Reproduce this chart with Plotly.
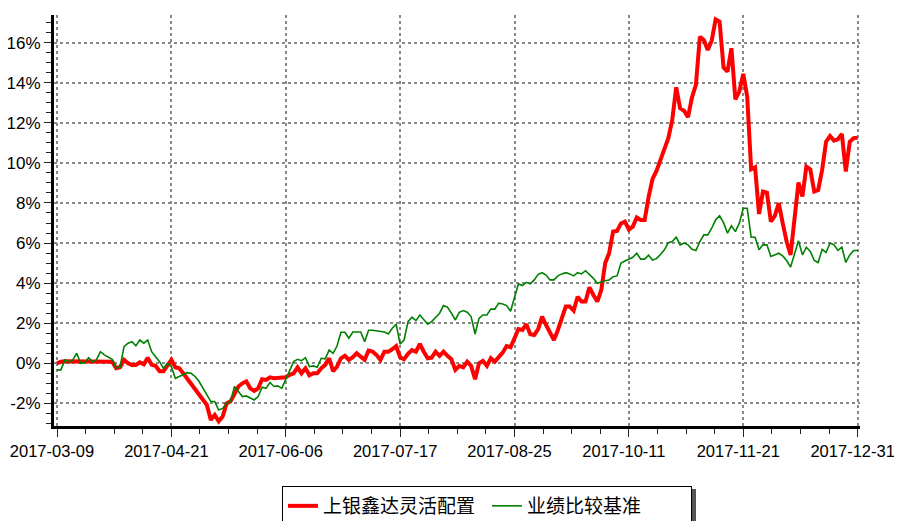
import plotly.graph_objects as go

fund_name = "上银鑫达灵活配置"
bench_name = "业绩比较基准"

tick_labels = ["2017-03-09", "2017-04-21", "2017-06-06", "2017-07-17",
               "2017-08-25", "2017-10-11", "2017-11-21", "2017-12-31"]

fund = [0.0, 0.08, 0.1, 0.1, 0.1, 0.1, 0.1, 0.1, 0.1, 0.1, 0.1, 0.1, 0.1, 0.1, 0.08,
        -0.25, -0.2, 0.17, 0.0, -0.08, -0.08, 0.05, -0.05, 0.28, -0.08, -0.13, -0.4, -0.4, -0.08, 0.17,
        -0.2, -0.25, -0.5, -0.75, -1.0, -1.25, -1.53, -1.75, -2.08, -2.83, -2.58, -2.9, -2.66, -2.0, -1.9,
        -1.53, -1.16, -1.0, -0.9, -1.25, -1.38, -1.25, -0.8, -0.83, -0.7, -0.75, -0.75, -0.75, -0.7, -0.58,
        -0.5, -0.2, -0.5, -0.25, -0.6, -0.5, -0.5, -0.25, -0.08, 0.25, -0.4, -0.17, 0.25, 0.37, 0.17,
        0.3, 0.5, 0.33, 0.17, 0.63, 0.58, 0.42, 0.17, 0.58, 0.58, 0.7, 0.86, 0.3, 0.2, 0.47,
        0.66, 0.58, 0.96, 0.58, 0.25, 0.28, 0.58, 0.37, 0.58, 0.37, 0.2, -0.33, -0.13, -0.2, 0.08,
        -0.13, -0.8, 0.0, 0.12, -0.13, 0.25, 0.08, 0.3, 0.53, 0.86, 0.8, 1.25, 1.71, 1.66, 1.95,
        1.45, 1.41, 1.7, 2.33, 1.91, 1.58, 1.16, 1.66, 2.33, 2.83, 2.83, 2.63, 3.32, 3.08, 3.08,
        3.79, 3.41, 3.08, 3.66, 5.0, 5.5, 6.57, 6.6, 6.98, 7.07, 6.68, 6.82, 7.28, 7.15, 7.15,
        8.3, 9.2, 9.6, 10.1, 10.73, 11.23, 12.14, 13.77, 12.72, 12.6, 12.28, 13.27, 13.89, 16.3, 16.13,
        15.63, 16.1, 17.16, 17.05, 14.77, 14.55, 15.72, 13.17, 13.56, 14.44, 13.3, 9.68, 9.78, 7.45, 8.57,
        8.52, 7.07, 7.36, 7.99, 6.99, 6.08, 5.41, 7.24, 9.02, 8.32, 9.82, 9.68, 8.57, 8.65, 9.65,
        11.06, 11.34, 11.11, 11.18, 11.44, 9.57, 11.06, 11.23, 11.26]

bench = [-0.33, -0.33, 0.17, 0.08, 0.17, 0.5, 0.0, 0.03, 0.28, 0.08, 0.17, 0.58, 0.42, 0.33, 0.2,
         -0.25, -0.17, 0.83, 1.0, 1.08, 0.87, 1.16, 1.0, 1.16, 0.58, 0.33, 0.08, -0.25, 0.0, -0.17,
         -0.75, -0.66, -0.58, -0.47, -0.5, -0.66, -0.9, -1.25, -1.58, -1.91, -1.91, -2.33, -2.25, -2.0, -1.91,
         -1.16, -1.41, -1.66, -1.63, -1.75, -1.83, -1.66, -1.2, -1.25, -0.96, -1.16, -1.13, -1.25, -0.83, -0.33,
         0.08, 0.2, 0.13, 0.28, -0.17, -0.13, -0.2, 0.25, 0.22, 0.66, 0.5, 0.86, 1.55, 1.55, 1.25,
         1.56, 1.56, 1.56, 1.08, 1.65, 1.65, 1.63, 1.58, 1.56, 1.46, 1.75, 1.95, 0.96, 1.16, 2.08,
         2.3, 2.13, 2.41, 2.16, 1.95, 2.08, 2.28, 2.5, 2.88, 2.8, 2.5, 2.16, 2.54, 2.63, 2.55,
         2.33, 1.46, 2.24, 2.41, 2.41, 2.7, 2.7, 3.0, 2.96, 2.88, 2.6, 3.28, 3.96, 3.88, 4.04,
         3.96, 4.16, 4.44, 4.52, 4.4, 4.16, 4.16, 4.36, 4.46, 4.52, 4.46, 4.36, 4.52, 4.46, 4.62,
         4.44, 4.24, 3.99, 4.07, 4.12, 4.16, 4.32, 4.36, 5.0, 5.1, 5.19, 5.29, 5.49, 5.2, 5.2,
         5.39, 5.15, 5.22, 5.43, 5.66, 6.02, 6.07, 6.29, 5.91, 6.0, 5.91, 5.69, 5.63, 6.07, 6.41,
         6.41, 6.74, 7.16, 7.36, 7.02, 6.49, 6.86, 6.57, 6.99, 7.74, 7.74, 6.29, 6.29, 5.66, 5.91,
         5.91, 5.33, 5.41, 5.49, 5.36, 5.13, 4.8, 5.49, 6.11, 5.41, 5.79, 5.58, 5.13, 5.03, 5.69,
         5.53, 6.0, 5.91, 5.63, 5.79, 5.03, 5.41, 5.63, 5.63]

y_ticks = [-2, 0, 2, 4, 6, 8, 10, 12, 14, 16]

n = len(fund)
x = list(range(n))
step = (n - 1) / (len(tick_labels) - 1)
tick_pos = [round(k * step) for k in range(len(tick_labels))]

# page body has an 8px margin; margins compensate so the plot lands where the reference has it
OFF = 8
W, H = 902, 521
ml, mr, mt, mb = 46, 50, 7, 103
pw = W - ml - mr
ph = H - mt - mb


def px_x(vx):  # viewport x -> paper x
    return (vx - OFF - ml) / pw


def px_y(vy):  # viewport y -> paper y
    return (H - mb - (vy - OFF)) / ph


fig = go.Figure()
fig.add_trace(go.Scatter(x=x, y=fund, mode="lines", name=fund_name,
                         line=dict(color="#FF0000", width=4)))
fig.add_trace(go.Scatter(x=x, y=bench, mode="lines", name=bench_name,
                         line=dict(color="#008000", width=1.6)))

x_font = dict(family="Liberation Sans, Arial, sans-serif", size=16.5, color="black")
y_font = dict(family="Liberation Sans, Arial, sans-serif", size=17, color="black")

fig.update_xaxes(
    range=[-0.76, 203.6], tickmode="array", tickvals=tick_pos, ticktext=tick_labels,
    showline=True, linecolor="black", linewidth=3, automargin=False,
    ticks="outside", ticklen=8, tickwidth=1, tickcolor="#222",
    ticklabeloverflow="allow", ticklabelshift=-5,
    showgrid=True, gridcolor="#888", griddash="dot", gridwidth=1.5,
    zeroline=False, tickfont=x_font,
    minor=dict(ticks="outside", ticklen=5, tickcolor="#222", tick0=0, dtick=step / 4, showgrid=False),
)
fig.update_yaxes(
    range=[-3.13, 17.38], tickmode="array", tickvals=y_ticks,
    ticktext=[f"{v}%" for v in y_ticks],
    showline=True, linecolor="black", linewidth=3, automargin=False,
    ticks="outside", ticklen=7, tickwidth=1, tickcolor="#222",
    ticklabelstandoff=0,
    showgrid=True, gridcolor="#888", griddash="dot", gridwidth=1.5,
    zeroline=False, tickfont=y_font,
    minor=dict(ticks="outside", ticklen=5, tickcolor="#222", tick0=0, dtick=0.5, showgrid=False),
)

fig.add_shape(type="rect", xref="paper", yref="paper",
              x0=px_x(692), x1=px_x(696),
              y0=px_y(489), y1=px_y(530),
              fillcolor="#555", line=dict(width=0), layer="above")

fig.update_layout(
    width=W, height=H,
    margin=dict(l=ml, r=mr, t=mt, b=mb, autoexpand=False),
    plot_bgcolor="white", paper_bgcolor="white",
    showlegend=True,
    legend=dict(orientation="h", x=px_x(282), xanchor="left",
                y=px_y(486), yanchor="top",
                entrywidth=159, entrywidthmode="pixels",
                bordercolor="black", borderwidth=1, bgcolor="white",
                font=dict(family="Noto Sans CJK SC", size=19, color="black")),
)

fig.write_html("out.html")
